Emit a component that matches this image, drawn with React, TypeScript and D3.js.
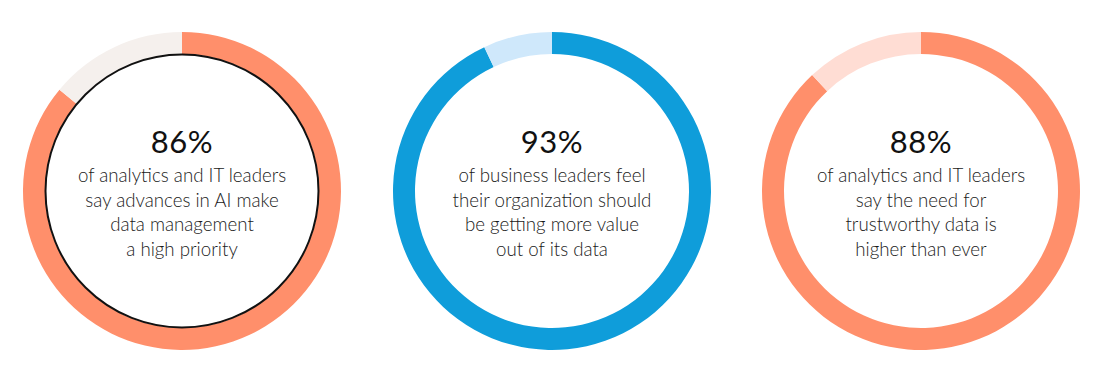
import React from "react";
import * as d3 from "d3";

// Survey results, one ring per statistic
const values = [86, 93, 88];
const labels = ["86%", "93%", "88%"];
const captions = [
  ["of analytics and IT leaders", "say advances in AI make", "data management", "a high priority"],
  ["of business leaders feel", "their organization should", "be getting more value", "out of its data"],
  ["of analytics and IT leaders", "say the need for", "trustworthy data is", "higher than ever"],
];
const mainColors = ["#FF8F6B", "#0F9DDA", "#FF8F6B"];
const restColors = ["#F5F0ED", "#CFE8FB", "#FFDDD4"];
const outlined = [true, false, false];

const W = 1095;
const H = 366;
const centers = [182, 552, 921];
const cy = 191;
const outerR = 159;
const innerR = 137;

export default function App() {
  const pie = d3
    .pie<number>()
    .sort(null)
    .startAngle(0)
    .endAngle(2 * Math.PI);
  const arc = d3.arc<d3.PieArcDatum<number>>().innerRadius(innerR).outerRadius(outerR);

  return (
    <svg
      width={W}
      height={H}
      style={{ position: "absolute", left: 0, top: 0, background: "#fff" }}
      fontFamily="Lato, 'Open Sans', sans-serif"
    >
      {values.map((v, i) => {
        const slices = pie([v, 100 - v]);
        return (
          <g key={i} transform={`translate(${centers[i]},${cy})`}>
            {slices.map((s, j) => (
              <path key={j} d={arc(s) || ""} fill={j === 0 ? mainColors[i] : restColors[i]} />
            ))}
            {outlined[i] && (
              <circle r={innerR - 0.5} fill="none" stroke="#111" strokeWidth={2} />
            )}
            <text y={-38} textAnchor="middle" fontSize={31} fill="#111" letterSpacing={0.5}>
              {labels[i]}
            </text>
            {captions[i].map((line, k) => (
              <text
                key={k}
                y={-9 + k * 24.7}
                textAnchor="middle"
                fontSize={18.7}
                fontWeight={300}
                fill="#1a1a1a"
              >
                {line}
              </text>
            ))}
          </g>
        );
      })}
    </svg>
  );
}
